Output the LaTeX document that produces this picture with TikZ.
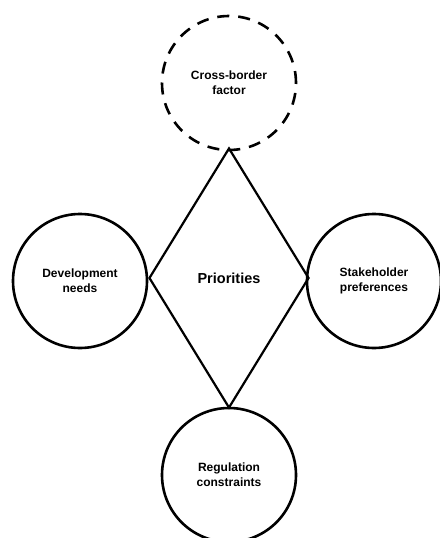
\documentclass[tikz,border=0pt]{standalone}
\usepackage{fontspec}
\setmainfont{Liberation Sans}
\usetikzlibrary{shapes.geometric}

\begin{document}
\begin{tikzpicture}[x=1pt,y=-1pt,
	topic/.style={draw,circle,line width=2.6pt,minimum size=134pt,inner sep=0pt,
		align=center,font=\fontsize{12}{15}\selectfont\bfseries},
	border/.style={topic,dash pattern=on 12pt off 9pt},
	prio/.style={draw,diamond,line width=2.2pt,minimum width=160pt,minimum height=260pt,
		inner sep=0pt,font=\fontsize{14.5}{17}\selectfont\bfseries}]
			\useasboundingbox (0,0) rectangle (439,538);
			
			\node[prio] (core) at (229,278) {Priorities};
			
			\node[border] (cross) at (229,83) {Cross-border\\factor};
			\node[topic] (dev) at (80,281) {Development\\needs};
			\node[topic] (stake) at (374,281) {Stakeholder\\preferences};
			\node[topic] (reg) at (229,475) {Regulation\\constraints};
			\end{tikzpicture}
\end{document}
